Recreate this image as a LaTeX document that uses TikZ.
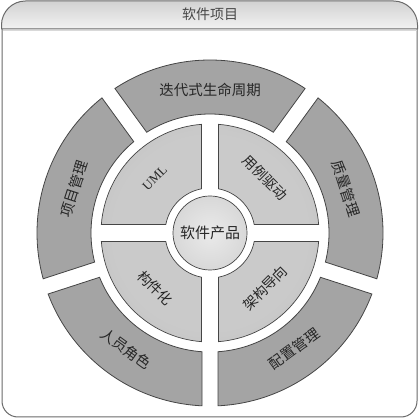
\documentclass[tikz,border=0pt]{standalone}
\usepackage{fontspec}
\setmainfont{Noto Sans CJK SC}
\newfontfamily\latinserif{Liberation Serif}
\definecolor{segfill}{HTML}{A4A4A4}
\definecolor{lineclr}{HTML}{454545}
\definecolor{txtclr}{HTML}{262626}
\definecolor{qA}{HTML}{CACACA}
\definecolor{qB}{HTML}{BEBEBE}
\definecolor{qC}{HTML}{B2B2B2}
\definecolor{qD}{HTML}{A4A4A4}
\definecolor{hdrtop}{HTML}{D2D2D2}
\definecolor{hdrbot}{HTML}{F2F2F2}
\definecolor{ctrin}{HTML}{EAEAEA}
\definecolor{ctrout}{HTML}{D8D8D8}
\pgfdeclareradialshading{qshade}{\pgfpoint{0bp}{0bp}}{color(0bp)=(qA); color(22bp)=(qA); color(36bp)=(qB); color(40bp)=(qC); color(44.5bp)=(qC); color(45.5bp)=(qD); color(50bp)=(qD)}
\newcommand\segp[5]{({#1+asin(#5/#4)}:#4pt) arc[start angle={#1+asin(#5/#4)}, end angle={#2-asin(#5/#4)}, radius=#4pt] -- ({#2-asin(#5/#3)}:#3pt) arc[start angle={#2-asin(#5/#3)}, end angle={#1+asin(#5/#3)}, radius=#3pt] -- cycle}
\tikzset{
  outseg/.style={fill=segfill, draw=lineclr, line width=0.8pt},
  qedge/.style={draw=lineclr, line width=0.7pt},
  lbl/.style={text=txtclr, font=\fontsize{14.5}{16}\selectfont, inner sep=0pt},
  qlbl/.style={text=txtclr, font=\fontsize{14}{16}\selectfont, inner sep=0pt},
  frame/.style={draw=lineclr!80, line width=1pt}
}
\begin{document}
\begin{tikzpicture}[x=1pt,y=1pt]
\useasboundingbox (0,0) rectangle (419,419);
% frame body
\draw[frame, fill=white] (2,390) -- (2,18) arc[start angle=180,end angle=270,radius=16] -- (401,2) arc[start angle=270,end angle=360,radius=16] -- (417,390);
% header
\shade[top color=hdrtop, bottom color=hdrbot] (1.5,390) -- (1.5,394) arc[start angle=180,end angle=90,radius=24] -- (393.5,418) arc[start angle=90,end angle=0,radius=24] -- (417.5,390) -- cycle;
\draw[frame] (1.5,390) -- (1.5,394) arc[start angle=180,end angle=90,radius=24] -- (393.5,418) arc[start angle=90,end angle=0,radius=24] -- (417.5,390) -- cycle;
\draw[white!85!black, line width=0.6pt] (2.5,388.6) -- (416.5,388.6);
\node[text=txtclr!85!white, font=\fontsize{14}{16}\selectfont, inner sep=0pt] (title) at (210,405) {软件项目};
\begin{scope}[shift={(210,186)}]
  % outer segments
  \path[outseg] \segp{54}{126}{119}{173}{8};
  \path[outseg] \segp{-18}{54}{119}{173}{8};
  \path[outseg] \segp{-90}{-18}{119}{173}{8};
  \path[outseg] \segp{-162}{-90}{119}{173}{8};
  \path[outseg] \segp{126}{198}{119}{173}{8};
  % inner quadrants
  \foreach \a in {0,90,180,270}{
    \begin{scope}
      \clip \segp{\a}{\a+90}{45}{109}{8.5};
      \shade[shading=qshade] (0,0) circle (110pt);
    \end{scope}
    \path[qedge] \segp{\a}{\a+90}{45}{109}{8.5};
  }
  % center
  \shade[inner color=ctrin, outer color=ctrout] (0,0) circle (37pt);
  \draw[qedge] (0,0) circle (37pt);
  \node[text=txtclr, font=\fontsize{15}{17}\selectfont, inner sep=0pt] (core) at (0,0) {软件产品};
  % outer labels
  \node[lbl] (life) at (90:143pt) {迭代式生命周期};
  \node[lbl, rotate=-72] (qual) at (18:143pt) {质量管理};
  \node[lbl, rotate=36] (conf) at (-54:143pt) {配置管理};
  \node[lbl, rotate=-36] (role) at (-126:143pt) {人员角色};
  \node[lbl, rotate=72] (proj) at (162:143pt) {项目管理};
  % inner labels
  \node[qlbl, rotate=45, font=\latinserif\fontsize{13}{15}\selectfont] (uml) at (135:78pt) {UML};
  \node[qlbl, rotate=-45] (usecase) at (45:78pt) {用例驱动};
  \node[qlbl, rotate=45] (arch) at (-45:78pt) {架构导向};
  \node[qlbl, rotate=-45] (comp) at (-135:78pt) {构件化};
\end{scope}
\end{tikzpicture}
\end{document}
